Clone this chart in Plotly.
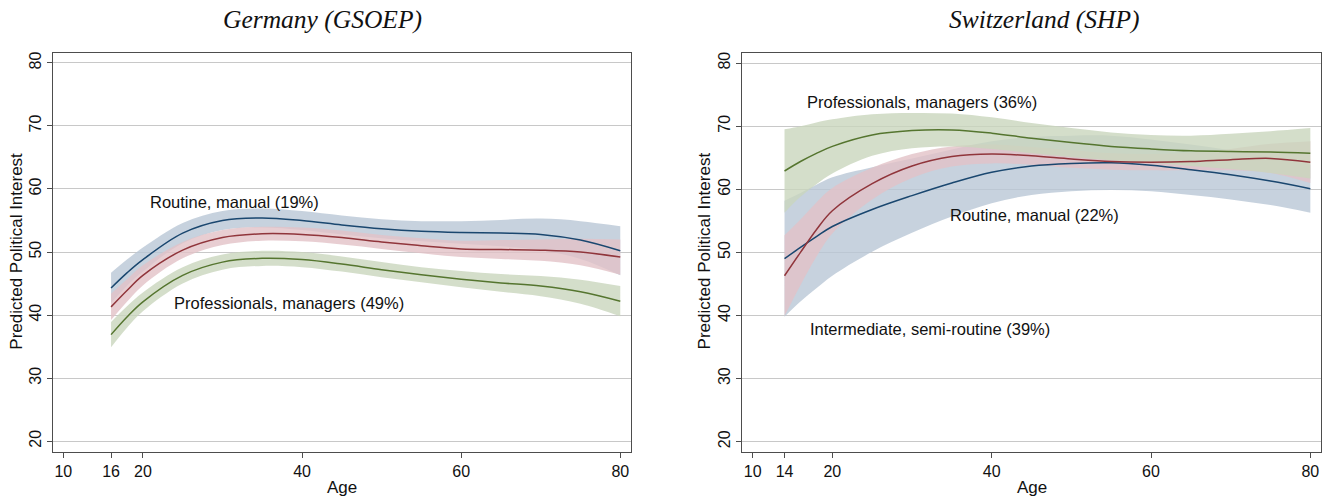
import plotly.graph_objects as go

# ---------------- data ----------------
age_de = [16, 18, 20, 25, 30, 35, 40, 45, 50, 55, 60, 65, 70, 75, 80]
de_routine = [44.3, 46.7, 48.8, 53.0, 55.0, 55.4, 55.0, 54.3, 53.7, 53.3, 53.1, 53.0, 52.8, 51.9, 50.2]
de_routine_ci = [2.4, 2.1, 1.9, 1.6, 1.5, 1.5, 1.5, 1.5, 1.5, 1.6, 1.8, 2.1, 2.5, 3.0, 3.9]
de_inter = [41.3, 43.9, 46.3, 50.3, 52.3, 52.9, 52.8, 52.3, 51.6, 51.0, 50.5, 50.4, 50.3, 50.0, 49.2]
de_inter_ci = [2.1, 1.8, 1.6, 1.3, 1.2, 1.1, 1.1, 1.1, 1.1, 1.2, 1.3, 1.5, 1.7, 2.1, 2.8]
de_prof = [36.9, 39.7, 42.1, 46.3, 48.4, 49.0, 48.8, 48.1, 47.2, 46.4, 45.7, 45.1, 44.6, 43.7, 42.2]
de_prof_ci = [2.0, 1.7, 1.5, 1.3, 1.2, 1.2, 1.2, 1.2, 1.2, 1.2, 1.3, 1.4, 1.6, 1.9, 2.4]

age_ch = [14, 16, 18, 20, 25, 30, 35, 40, 45, 50, 55, 60, 65, 70, 75, 80]
ch_routine = [49.0, 50.8, 52.5, 54.1, 56.8, 59.0, 61.0, 62.7, 63.7, 64.1, 64.2, 63.8, 63.1, 62.3, 61.3, 60.1]
ch_routine_ci = [9.2, 8.6, 8.2, 7.8, 6.7, 5.9, 5.3, 4.9, 4.6, 4.4, 4.3, 4.1, 4.0, 3.9, 3.8, 3.8]
ch_inter = [46.3, 50.0, 53.6, 56.6, 60.9, 63.7, 65.2, 65.6, 65.3, 64.8, 64.4, 64.3, 64.4, 64.7, 64.9, 64.3]
ch_inter_ci = [6.4, 5.2, 4.3, 3.6, 2.5, 1.9, 1.6, 1.5, 1.4, 1.4, 1.3, 1.3, 1.4, 1.7, 2.3, 3.3]
ch_prof = [62.9, 64.4, 65.7, 66.8, 68.6, 69.3, 69.4, 68.9, 68.1, 67.4, 66.8, 66.4, 66.1, 66.0, 65.9, 65.7]
ch_prof_ci = [6.6, 5.6, 4.9, 4.3, 3.3, 2.8, 2.6, 2.5, 2.4, 2.3, 2.2, 2.2, 2.4, 2.8, 3.3, 4.0]

x_ticks_de = [10, 16, 20, 40, 60, 80]
x_ticks_ch = [10, 14, 20, 40, 60, 80]
y_ticks = [20, 30, 40, 50, 60, 70, 80]

titles = ["Germany (GSOEP)", "Switzerland (SHP)"]

# ---------------- style ----------------
NAVY = "#1a476f"
MAROON = "#90353b"
GREEN = "#55752f"
FILLS = {
    NAVY: "rgba(185,199,214,0.8)",
    MAROON: "rgba(226,194,199,0.8)",
    GREEN: "rgba(201,214,189,0.8)",
}
FONT = "Liberation Sans, Arial, sans-serif"
FRAME = "#4d4d4d"

fig = go.Figure()


def add_band(x, est, ci, color, xa, ya):
    lo = [e - c for e, c in zip(est, ci)]
    hi = [e + c for e, c in zip(est, ci)]
    fig.add_trace(go.Scatter(x=x, y=lo, mode="lines", line=dict(width=0, shape="spline", smoothing=1.0),
                             showlegend=False, hoverinfo="skip", xaxis=xa, yaxis=ya))
    fig.add_trace(go.Scatter(x=x, y=hi, mode="lines", line=dict(width=0, shape="spline", smoothing=1.0),
                             fill="tonexty", fillcolor=FILLS[color],
                             showlegend=False, hoverinfo="skip", xaxis=xa, yaxis=ya))


def add_line(x, est, color, xa, ya):
    fig.add_trace(go.Scatter(x=x, y=est, mode="lines",
                             line=dict(color=color, width=1.5, shape="spline", smoothing=1.0),
                             showlegend=False, hoverinfo="skip", xaxis=xa, yaxis=ya))


# Germany
add_band(age_de, de_routine, de_routine_ci, NAVY, "x", "y")
add_band(age_de, de_inter, de_inter_ci, MAROON, "x", "y")
add_band(age_de, de_prof, de_prof_ci, GREEN, "x", "y")
add_line(age_de, de_routine, NAVY, "x", "y")
add_line(age_de, de_inter, MAROON, "x", "y")
add_line(age_de, de_prof, GREEN, "x", "y")

# Switzerland
add_band(age_ch, ch_routine, ch_routine_ci, NAVY, "x2", "y2")
add_band(age_ch, ch_inter, ch_inter_ci, MAROON, "x2", "y2")
add_band(age_ch, ch_prof, ch_prof_ci, GREEN, "x2", "y2")
add_line(age_ch, ch_routine, NAVY, "x2", "y2")
add_line(age_ch, ch_inter, MAROON, "x2", "y2")
add_line(age_ch, ch_prof, GREEN, "x2", "y2")

W, H = 1335, 501

xcommon = dict(showline=True, mirror=True, linecolor=FRAME, linewidth=1.3,
               ticks="outside", ticklen=5, tickwidth=1, tickcolor=FRAME,
               showgrid=False, zeroline=False,
               tickfont=dict(family=FONT, size=16, color="#111"))
ycommon = dict(showline=True, mirror=True, linecolor=FRAME, linewidth=1.3,
               ticks="outside", ticklen=5, tickwidth=1, tickcolor=FRAME,
               showgrid=True, gridcolor="#c8c8c8", gridwidth=1, zeroline=False,
               tickvals=y_ticks, tickangle=-90, range=[18.36, 81.65],
               tickfont=dict(family=FONT, size=16, color="#111"))

fig.update_layout(
    width=W, height=H,
    margin=dict(l=0, r=0, t=0, b=0),
    paper_bgcolor="white", plot_bgcolor="white",
    xaxis=dict(domain=[53.3 / W, 630.7 / W], range=[8.74, 81.31], tickvals=x_ticks_de, anchor="y", **xcommon),
    yaxis=dict(domain=[1 - 451.5 / H, 1 - 52.5 / H], anchor="x", **ycommon),
    xaxis2=dict(domain=[742.3 / W, 1320.7 / W], range=[8.7, 81.3], tickvals=x_ticks_ch, anchor="y2", **xcommon),
    yaxis2=dict(domain=[1 - 452 / H, 1 - 52.7 / H], anchor="x2", **ycommon),
    showlegend=False,
    hovermode=False,
)

ann = []
lab_font = dict(family=FONT, size=16.5, color="#111")
title_lab_font = dict(family=FONT, size=17, color="#111")
# axis titles
for xc in [342 / W, 1031.5 / W]:
    ann.append(dict(text="Age", x=xc, y=1 - 487 / H, xref="paper", yref="paper",
                    showarrow=False, font=title_lab_font, xanchor="center", yanchor="middle"))
for xc in [15.7 / W, 704.4 / W]:
    ann.append(dict(text="Predicted Political Interest", x=xc, y=1 - 251 / H, xref="paper", yref="paper",
                    showarrow=False, textangle=-90, font=title_lab_font, xanchor="center", yanchor="middle"))
# panel titles
title_font = dict(family="Liberation Serif, Times New Roman, serif", size=25.5, color="#111")
ann.append(dict(text="<i>" + titles[0] + "</i>", x=322 / W, y=1 - 19 / H, xref="paper", yref="paper",
                showarrow=False, font=title_font, xanchor="center", yanchor="middle"))
ann.append(dict(text="<i>" + titles[1] + "</i>", x=1044.5 / W, y=1 - 19 / H, xref="paper", yref="paper",
                showarrow=False, font=title_font, xanchor="center", yanchor="middle"))
# series labels
labels = [
    ("Routine, manual (19%)", 20.65, 57.9, "x", "y"),
    ("Professionals, managers (49%)", 23.7, 41.9, "x", "y"),
    ("Professionals, managers (36%)", 16.57, 73.8, "x2", "y2"),
    ("Routine, manual (22%)", 34.5, 55.9, "x2", "y2"),
    ("Intermediate, semi-routine (39%)", 16.9, 37.9, "x2", "y2"),
]
for t, x, y, xr, yr in labels:
    ann.append(dict(text=t, x=x, y=y, xref=xr, yref=yr, showarrow=False, font=lab_font,
                    xanchor="left", yanchor="middle"))

fig.update_layout(annotations=ann)
fig.write_html("out.html", config={"displayModeBar": False},
               post_script="document.body.style.margin='0px';document.body.style.overflow='hidden';")
